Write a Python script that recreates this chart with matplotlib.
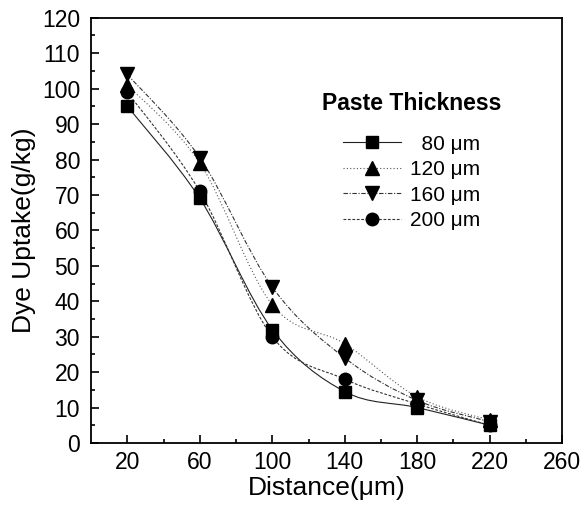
import numpy as np
import matplotlib
matplotlib.use("Agg")
import matplotlib.pyplot as plt
from matplotlib.path import Path
from matplotlib.patches import PathPatch
from matplotlib.lines import Line2D

plt.rcParams['font.family'] = ['Liberation Sans', 'DejaVu Sans']

# data
distance = [20, 60, 100, 140, 180, 220]
uptake_80 = [95, 69, 32, 14.5, 10, 5]
uptake_120 = [101, 79, 39, 28, 13, 6.5]
uptake_160 = [104, 80.5, 44, 24, 12, 6]
uptake_200 = [99, 71, 30, 18, 11, 5]

labels = ['  80 μm', '120 μm', '160 μm', '200 μm']
markers = ['s', '^', 'v', 'o']
msizes = [8, 10, 10, 9]
styles = ['-', (0, (1, 2)), (0, (4, 1.5, 1, 1.5)), (0, (2.5, 1.5))]
line_colors = ['#222222', '#555555', '#333333', '#333333']


def smooth_path(x, y):
    # Catmull-Rom through the points, drawn as cubic bezier segments
    x = np.asarray(x, float)
    y = np.asarray(y, float)
    verts = [(x[0], y[0])]
    codes = [Path.MOVETO]
    n = len(x)
    for i in range(n - 1):
        p0 = (x[max(i - 1, 0)], y[max(i - 1, 0)])
        p1 = (x[i], y[i])
        p2 = (x[i + 1], y[i + 1])
        p3 = (x[min(i + 2, n - 1)], y[min(i + 2, n - 1)])
        c1 = (p1[0] + (p2[0] - p0[0]) / 6, p1[1] + (p2[1] - p0[1]) / 6)
        c2 = (p2[0] - (p3[0] - p1[0]) / 6, p2[1] - (p3[1] - p1[1]) / 6)
        verts += [c1, c2, p2]
        codes += [Path.CURVE4] * 3
    return Path(verts, codes)


fig = plt.figure(figsize=(5.88, 5.08), dpi=100)
ax = fig.add_axes([0.155, 0.128, 0.801, 0.837])

series = [uptake_80, uptake_120, uptake_160, uptake_200]
handles = []
for ys, lab, mk, ms, ls, lc in zip(series, labels, markers, msizes, styles, line_colors):
    patch = PathPatch(smooth_path(distance, ys), facecolor='none', edgecolor=lc,
                      linewidth=0.8, linestyle=ls)
    ax.add_patch(patch)
    ax.plot(distance, ys, linestyle='none', marker=mk, markersize=ms, color='black')
    handles.append(Line2D([], [], color=lc, linestyle=ls, linewidth=0.8,
                          marker=mk, markersize=ms, markerfacecolor='black',
                          markeredgecolor='black'))

ax.set_xlim(0, 260)
ax.set_ylim(0, 120)
ax.set_xticks([20, 60, 100, 140, 180, 220, 260])
ax.set_xticks([40, 80, 120, 160, 200, 240], minor=True)
ax.set_yticks(np.arange(0, 121, 10))
ax.set_yticks(np.arange(5, 120, 10), minor=True)
ax.tick_params(which='both', direction='in', labelsize=16.5, width=1.2)
ax.tick_params(which='major', length=6)
ax.tick_params(which='minor', length=3)
ax.tick_params(axis='y', pad=8)
ax.tick_params(axis='x', pad=6)
for sp in ax.spines.values():
    sp.set_linewidth(1.3)

ax.set_xlabel('Distance(μm)', fontsize=19, labelpad=1)
ax.set_ylabel('Dye Uptake(g/kg)', fontsize=19, labelpad=4)

leg = ax.legend(handles, labels, title='Paste Thickness', frameon=False,
                fontsize=15, title_fontproperties={'size': 16.5, 'weight': 'bold'},
                handlelength=2.8, labelspacing=0.31, handletextpad=0.45,
                borderpad=0, borderaxespad=0,
                loc='upper left', bbox_to_anchor=(0.49, 0.825))
leg._legend_box.sep = 14

fig.savefig('out.png', dpi=100)
